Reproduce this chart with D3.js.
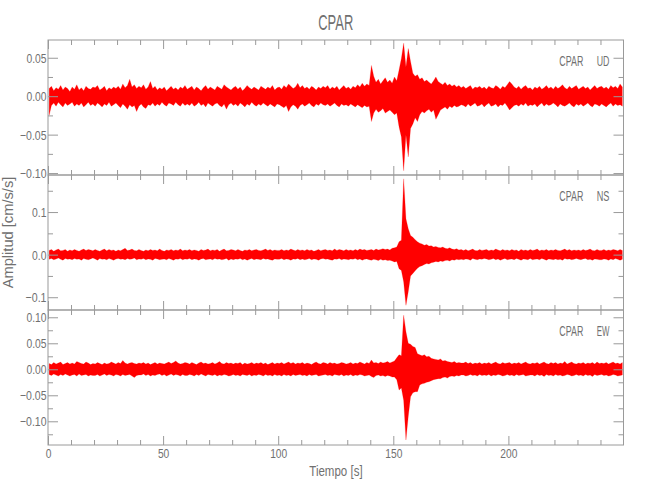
<!DOCTYPE html>
<html><head><meta charset="utf-8">
<script src="https://cdn.jsdelivr.net/npm/d3@7"></script>
<style>body{margin:0;background:#fff}</style></head>
<body><svg id="c" width="650" height="500"></svg>
<script>
// ---- data ----
const station = "CPAR";
const components = ["UD", "NS", "EW"];
const binWidth = 1;           // seconds per envelope bin (bins start at 0 s)
const xMax = 250;
const xMajorTicks = [0, 50, 100, 150, 200];
const xMinorTicks = [10,20,30,40,60,70,80,90,110,120,130,140,160,170,180,190,210,220,230,240];

// UD component: positive / negative peak in each 1 s bin (cm/s/s)
const udMax = [
 .010,.013,.007,.011,.009,.014,.008,.012,.010,.006,
 .012,.009,.015,.008,.011,.007,.013,.010,.009,.012,
 .011,.014,.008,.010,.013,.007,.011,.009,.012,.010,
 .013,.009,.016,.011,.014,.022,.012,.015,.010,.013,
 .011,.015,.009,.012,.019,.010,.013,.008,.011,.009,
 .012,.007,.010,.013,.009,.011,.008,.012,.010,.014,
 .009,.011,.013,.008,.012,.010,.007,.011,.014,.009,
 .012,.010,.008,.013,.011,.009,.015,.012,.010,.008,
 .011,.013,.009,.012,.007,.010,.014,.011,.009,.012,
 .010,.008,.013,.011,.009,.012,.010,.014,.008,.011,
 .012,.009,.014,.011,.016,.013,.010,.012,.017,.011,
 .014,.010,.012,.009,.013,.011,.008,.012,.010,.013,
 .011,.014,.009,.012,.010,.013,.008,.011,.014,.010,
 .012,.009,.013,.011,.015,.012,.017,.013,.016,.014,
 .040,.026,.018,.022,.016,.020,.024,.018,.021,.017,
 .025,.020,.034,.049,.069,.038,.062,.045,.030,.026,
 .028,.022,.024,.019,.021,.018,.016,.020,.025,.019,
 .017,.015,.018,.014,.016,.013,.015,.012,.014,.011,
 .013,.010,.012,.014,.009,.012,.011,.013,.010,.012,
 .009,.013,.011,.010,.014,.012,.009,.013,.011,.015,
 .019,.016,.012,.010,.013,.009,.012,.014,.010,.011,
 .008,.012,.010,.013,.009,.011,.014,.010,.012,.009,
 .013,.010,.012,.015,.011,.009,.013,.010,.012,.014,
 .009,.011,.013,.010,.012,.008,.011,.014,.010,.012,
 .013,.010,.012,.009,.014,.011,.013,.010,.016,.012];
const udMin = [
 -.025,-.012,-.009,-.013,-.008,-.011,-.014,-.009,-.012,-.010,
 -.008,-.013,-.010,-.012,-.009,-.014,-.011,-.008,-.012,-.010,
 -.013,-.009,-.011,-.014,-.010,-.012,-.008,-.013,-.011,-.009,
 -.012,-.015,-.010,-.013,-.017,-.011,-.014,-.012,-.020,-.013,
 -.010,-.014,-.016,-.011,-.012,-.009,-.013,-.010,-.012,-.008,
 -.011,-.013,-.009,-.010,-.012,-.008,-.011,-.013,-.009,-.012,
 -.010,-.012,-.009,-.013,-.011,-.008,-.012,-.010,-.014,-.009,
 -.011,-.013,-.010,-.009,-.012,-.014,-.010,-.017,-.011,-.009,
 -.012,-.010,-.013,-.009,-.011,-.014,-.010,-.012,-.008,-.011,
 -.013,-.010,-.012,-.009,-.011,-.013,-.010,-.012,-.014,-.010,
 -.011,-.013,-.015,-.012,-.020,-.014,-.011,-.013,-.017,-.012,
 -.010,-.013,-.011,-.009,-.012,-.014,-.010,-.012,-.009,-.011,
 -.012,-.010,-.013,-.011,-.009,-.012,-.014,-.010,-.012,-.011,
 -.013,-.010,-.012,-.014,-.011,-.013,-.015,-.012,-.014,-.013,
 -.033,-.022,-.017,-.021,-.019,-.016,-.022,-.020,-.018,-.021,
 -.024,-.022,-.040,-.053,-.097,-.050,-.079,-.042,-.036,-.028,
 -.033,-.024,-.020,-.022,-.019,-.017,-.021,-.018,-.030,-.024,
 -.018,-.016,-.014,-.017,-.013,-.015,-.012,-.014,-.013,-.011,
 -.012,-.014,-.010,-.013,-.011,-.009,-.013,-.012,-.010,-.014,
 -.011,-.009,-.013,-.012,-.010,-.014,-.011,-.012,-.009,-.013,
 -.018,-.015,-.012,-.011,-.013,-.010,-.012,-.009,-.013,-.011,
 -.012,-.010,-.014,-.011,-.009,-.013,-.010,-.012,-.011,-.009,
 -.011,-.014,-.010,-.012,-.013,-.011,-.009,-.012,-.014,-.010,
 -.012,-.010,-.013,-.011,-.009,-.012,-.014,-.010,-.011,-.013,
 -.010,-.012,-.014,-.011,-.009,-.013,-.010,-.012,-.011,-.013];

// NS component
const nsMax = [
 .010,.012,.008,.011,.013,.009,.010,.012,.008,.011,
 .009,.012,.010,.008,.011,.013,.010,.012,.011,.009,
 .012,.010,.008,.011,.013,.009,.012,.010,.011,.008,
 .011,.009,.012,.015,.010,.011,.013,.010,.009,.012,
 .010,.008,.011,.009,.012,.010,.011,.009,.013,.010,
 .008,.011,.010,.012,.009,.011,.010,.013,.009,.011,
 .010,.012,.009,.011,.010,.008,.012,.010,.011,.013,
 .009,.011,.010,.012,.008,.011,.013,.009,.010,.012,
 .011,.009,.012,.010,.008,.011,.010,.012,.009,.011,
 .012,.010,.009,.011,.013,.010,.012,.009,.011,.010,
 .010,.012,.009,.011,.010,.013,.011,.009,.012,.010,
 .011,.009,.012,.010,.011,.008,.010,.012,.009,.011,
 .012,.010,.011,.009,.013,.010,.012,.011,.009,.012,
 .010,.011,.009,.012,.010,.013,.011,.012,.010,.011,
 .012,.010,.013,.011,.012,.014,.012,.013,.011,.015,
 .016,.018,.030,.034,.178,.084,.061,.045,.041,.035,
 .030,.027,.025,.022,.024,.020,.021,.018,.019,.017,
 .016,.018,.015,.014,.016,.013,.012,.014,.011,.012,
 .010,.012,.009,.011,.013,.010,.009,.012,.010,.011,
 .012,.009,.011,.010,.013,.011,.009,.012,.010,.011,
 .009,.012,.010,.011,.008,.012,.010,.011,.009,.012,
 .010,.011,.013,.009,.011,.010,.012,.009,.011,.010,
 .012,.010,.009,.011,.013,.010,.012,.009,.011,.010,
 .011,.009,.012,.010,.011,.013,.010,.009,.012,.010,
 .010,.012,.009,.011,.010,.012,.011,.009,.012,.010];
const nsMin = [
 -.011,-.009,-.012,-.010,-.008,-.011,-.013,-.009,-.011,-.010,
 -.012,-.009,-.011,-.010,-.013,-.009,-.011,-.012,-.010,-.008,
 -.010,-.013,-.009,-.011,-.010,-.012,-.009,-.011,-.013,-.010,
 -.009,-.011,-.010,-.012,-.009,-.011,-.010,-.008,-.012,-.010,
 -.011,-.009,-.012,-.010,-.011,-.013,-.009,-.010,-.012,-.011,
 -.010,-.012,-.009,-.011,-.013,-.010,-.011,-.009,-.012,-.010,
 -.011,-.009,-.012,-.010,-.011,-.013,-.010,-.009,-.012,-.011,
 -.010,-.012,-.009,-.011,-.010,-.012,-.011,-.009,-.013,-.010,
 -.012,-.010,-.011,-.009,-.012,-.010,-.013,-.011,-.009,-.012,
 -.010,-.011,-.012,-.009,-.011,-.010,-.012,-.013,-.010,-.011,
 -.011,-.009,-.012,-.010,-.011,-.013,-.010,-.011,-.009,-.012,
 -.010,-.012,-.011,-.009,-.012,-.010,-.011,-.013,-.010,-.009,
 -.011,-.010,-.012,-.013,-.010,-.011,-.009,-.012,-.010,-.011,
 -.012,-.010,-.011,-.009,-.012,-.010,-.013,-.011,-.010,-.012,
 -.013,-.011,-.012,-.014,-.011,-.013,-.012,-.014,-.013,-.015,
 -.017,-.016,-.033,-.037,-.064,-.119,-.087,-.050,-.044,-.038,
 -.032,-.028,-.026,-.023,-.021,-.022,-.019,-.018,-.016,-.017,
 -.015,-.016,-.014,-.013,-.015,-.012,-.013,-.011,-.012,-.011,
 -.012,-.010,-.011,-.013,-.009,-.011,-.012,-.010,-.011,-.009,
 -.010,-.012,-.011,-.009,-.012,-.010,-.013,-.011,-.009,-.012,
 -.011,-.010,-.012,-.009,-.011,-.013,-.010,-.011,-.012,-.009,
 -.012,-.011,-.010,-.012,-.009,-.011,-.013,-.010,-.011,-.012,
 -.010,-.012,-.011,-.013,-.009,-.011,-.010,-.012,-.011,-.009,
 -.011,-.012,-.010,-.009,-.012,-.011,-.013,-.010,-.011,-.012,
 -.012,-.010,-.011,-.013,-.010,-.012,-.009,-.011,-.013,-.011];

// EW component
const ewMax = [
 .011,.009,.013,.010,.012,.014,.009,.011,.013,.010,
 .012,.010,.015,.013,.011,.010,.014,.012,.009,.011,
 .010,.013,.011,.009,.012,.010,.011,.014,.012,.010,
 .013,.011,.017,.012,.010,.012,.013,.011,.010,.012,
 .011,.013,.010,.012,.009,.011,.013,.010,.012,.011,
 .010,.012,.014,.011,.013,.016,.012,.010,.011,.013,
 .012,.010,.013,.011,.009,.012,.014,.011,.012,.010,
 .011,.013,.010,.012,.015,.011,.010,.013,.011,.012,
 .010,.012,.011,.013,.009,.012,.010,.011,.013,.010,
 .012,.011,.013,.010,.012,.009,.011,.013,.010,.012,
 .011,.013,.010,.012,.014,.011,.013,.010,.012,.011,
 .013,.010,.012,.011,.009,.012,.014,.011,.010,.013,
 .012,.010,.013,.011,.012,.010,.011,.013,.012,.010,
 .011,.013,.010,.012,.011,.014,.012,.010,.013,.011,
 .018,.012,.013,.011,.014,.012,.013,.015,.012,.014,
 .016,.022,.028,.026,.104,.072,.050,.048,.044,.042,
 .030,.028,.026,.028,.024,.025,.021,.020,.019,.018,
 .020,.016,.017,.015,.014,.013,.015,.012,.013,.012,
 .012,.014,.011,.013,.010,.012,.011,.013,.010,.012,
 .011,.013,.010,.012,.014,.011,.010,.013,.011,.012,
 .013,.010,.012,.011,.013,.010,.012,.014,.011,.010,
 .012,.011,.013,.010,.012,.014,.011,.010,.013,.011,
 .013,.010,.012,.011,.015,.010,.012,.014,.011,.010,
 .012,.011,.013,.010,.012,.011,.013,.010,.014,.011,
 .012,.011,.013,.010,.012,.014,.011,.012,.010,.013];
const ewMin = [
 -.010,-.012,-.009,-.011,-.013,-.010,-.012,-.009,-.011,-.013,
 -.011,-.010,-.013,-.009,-.012,-.011,-.010,-.013,-.011,-.012,
 -.012,-.010,-.013,-.011,-.009,-.012,-.010,-.011,-.013,-.010,
 -.011,-.013,-.010,-.012,-.011,-.010,-.013,-.016,-.012,-.011,
 -.011,-.009,-.012,-.010,-.013,-.011,-.012,-.010,-.009,-.012,
 -.010,-.013,-.011,-.009,-.012,-.010,-.011,-.013,-.010,-.012,
 -.012,-.010,-.011,-.013,-.010,-.012,-.009,-.011,-.013,-.010,
 -.011,-.012,-.010,-.013,-.011,-.012,-.010,-.011,-.013,-.012,
 -.010,-.012,-.011,-.013,-.010,-.011,-.012,-.010,-.013,-.011,
 -.012,-.010,-.011,-.013,-.010,-.012,-.011,-.013,-.010,-.012,
 -.011,-.013,-.010,-.012,-.011,-.013,-.010,-.012,-.011,-.010,
 -.012,-.011,-.013,-.010,-.012,-.011,-.010,-.013,-.012,-.011,
 -.010,-.012,-.011,-.013,-.010,-.011,-.012,-.010,-.013,-.011,
 -.012,-.010,-.013,-.011,-.012,-.010,-.011,-.013,-.012,-.011,
 -.014,-.016,-.012,-.011,-.013,-.012,-.014,-.012,-.013,-.015,
 -.015,-.020,-.040,-.036,-.060,-.136,-.091,-.053,-.045,-.043,
 -.043,-.030,-.028,-.027,-.025,-.024,-.022,-.020,-.019,-.018,
 -.018,-.016,-.015,-.017,-.014,-.013,-.014,-.012,-.013,-.011,
 -.011,-.013,-.012,-.010,-.012,-.011,-.013,-.010,-.012,-.011,
 -.012,-.010,-.013,-.011,-.012,-.010,-.011,-.013,-.012,-.010,
 -.012,-.011,-.013,-.010,-.012,-.011,-.010,-.013,-.012,-.011,
 -.011,-.013,-.010,-.012,-.011,-.014,-.010,-.012,-.011,-.013,
 -.010,-.012,-.011,-.013,-.012,-.010,-.011,-.013,-.012,-.010,
 -.012,-.011,-.013,-.010,-.012,-.011,-.014,-.010,-.012,-.011,
 -.010,-.012,-.011,-.013,-.012,-.010,-.011,-.013,-.012,-.011];

// y-axis ranges and ticks per panel
const yDomains = [[-0.1025, 0.0731], [-0.130, 0.187], [-0.1456, 0.114]];
const yMajorTicks = [[-0.10, -0.05, 0.00, 0.05], [-0.1, 0.0, 0.1], [-0.10, -0.05, 0.00, 0.05, 0.10]];
const yMinorTicks = [[-0.075, -0.025, 0.025], [-0.05, 0.05, 0.15], [-0.125, -0.075, -0.025, 0.025, 0.075]];
const yFormats = [".2f", ".1f", ".2f"];
const seriesMax = [udMax, nsMax, ewMax];
const seriesMin = [udMin, nsMin, ewMin];

// ---- layout ----
const W = 650, H = 500;
const pL = 48, pR = 623.5, pT = 40, pB = 445;
const panelH = (pB - pT) / 3;
const axisColor = "#9a9a9a", textColor = "#707070";
const FONT = "'Liberation Sans', Arial, sans-serif";

const svg = d3.select("#c");
svg.append("rect").attr("width", W).attr("height", H).attr("fill", "#fff");

const x = d3.scaleLinear().domain([0, xMax]).range([pL, pR]);

function labelWidth(s) {
  let w = 0;
  for (const ch of s) {
    if (ch >= "0" && ch <= "9") w += 5.7;
    else if (ch === ".") w += 3;
    else if (ch === "\u2212" || ch === "-") w += 6.5;
    else w += 5.7;
  }
  return w;
}
function fitText(sel) {
  sel.each(function () {
    const t = d3.select(this);
    t.attr("textLength", labelWidth(t.text())).attr("lengthAdjust", "spacingAndGlyphs");
  });
}

const defs = svg.append("defs");

components.forEach((comp, i) => {
  const y0 = pT + i * panelH, y1 = y0 + panelH;
  const y = d3.scaleLinear().domain(yDomains[i]).range([y1, y0]);
  const g = svg.append("g");

  defs.append("clipPath").attr("id", "clip" + i)
    .append("rect").attr("x", pL).attr("y", y0).attr("width", pR - pL).attr("height", panelH);

  // trace envelope: upper edge through positive peaks, lower edge through negative peaks
  const bins = seriesMax[i].map((v, k) => ({ t: k * binWidth + binWidth / 2, hi: v, lo: seriesMin[i][k] }));
  const area = d3.area().x(d => x(d.t)).y0(d => y(d.lo)).y1(d => y(d.hi));
  g.append("path")
    .attr("clip-path", `url(#clip${i})`)
    .attr("d", area(bins))
    .attr("fill", "#ff0000").attr("stroke", "#ff0000").attr("stroke-width", 0.4)
    .attr("stroke-opacity", 0.5).attr("stroke-linejoin", "miter");

  // frame
  g.append("rect").attr("x", pL).attr("y", y0).attr("width", pR - pL).attr("height", panelH)
    .attr("fill", "none").attr("stroke", axisColor).attr("stroke-width", 1);

  const styleAxis = a => { a.select(".domain").remove(); a.selectAll("line").attr("stroke", axisColor); };

  // x ticks bottom & top (inward)
  const xb = g.append("g").attr("transform", `translate(0,${y1})`)
    .call(d3.axisBottom(x).tickValues(xMajorTicks).tickSize(-9).tickSizeOuter(0).tickPadding(4)
      .tickFormat(i === 2 ? d3.format("d") : () => ""));
  styleAxis(xb);
  xb.selectAll("text").attr("font-family", FONT).attr("font-size", 13).attr("fill", textColor)
    .attr("dy", null).attr("y", 13.3).call(fitText);
  const xbm = g.append("g").attr("transform", `translate(0,${y1})`)
    .call(d3.axisBottom(x).tickValues(xMinorTicks).tickSize(-5).tickSizeOuter(0).tickFormat(() => ""));
  styleAxis(xbm);
  const xt = g.append("g").attr("transform", `translate(0,${y0})`)
    .call(d3.axisTop(x).tickValues(xMajorTicks).tickSize(-9).tickSizeOuter(0).tickFormat(() => ""));
  styleAxis(xt);
  const xtm = g.append("g").attr("transform", `translate(0,${y0})`)
    .call(d3.axisTop(x).tickValues(xMinorTicks).tickSize(-5).tickSizeOuter(0).tickFormat(() => ""));
  styleAxis(xtm);

  // y ticks left & right (inward)
  const fmt = d3.format(yFormats[i]);
  const yl = g.append("g").attr("transform", `translate(${pL},0)`)
    .call(d3.axisLeft(y).tickValues(yMajorTicks[i]).tickSize(-10).tickSizeOuter(0).tickPadding(1.5)
      .tickFormat(d => fmt(d)));
  styleAxis(yl);
  yl.selectAll("text").attr("font-family", FONT).attr("font-size", 13).attr("fill", textColor)
    .attr("dy", "0.36em").call(fitText);
  const ylm = g.append("g").attr("transform", `translate(${pL},0)`)
    .call(d3.axisLeft(y).tickValues(yMinorTicks[i]).tickSize(-5).tickSizeOuter(0).tickFormat(() => ""));
  styleAxis(ylm);
  const yr = g.append("g").attr("transform", `translate(${pR},0)`)
    .call(d3.axisRight(y).tickValues(yMajorTicks[i]).tickSize(-10).tickSizeOuter(0).tickFormat(() => ""));
  styleAxis(yr);
  const yrm = g.append("g").attr("transform", `translate(${pR},0)`)
    .call(d3.axisRight(y).tickValues(yMinorTicks[i]).tickSize(-5).tickSizeOuter(0).tickFormat(() => ""));
  styleAxis(yrm);

  // station / component label
  g.append("text").attr("x", 559.3).attr("y", y0 + 26).text(station)
    .attr("font-family", FONT).attr("font-size", 14).attr("fill", textColor)
    .attr("textLength", 24).attr("lengthAdjust", "spacingAndGlyphs");
  g.append("text").attr("x", 596.7).attr("y", y0 + 26).text(comp)
    .attr("font-family", FONT).attr("font-size", 14).attr("fill", textColor)
    .attr("textLength", 12.7).attr("lengthAdjust", "spacingAndGlyphs");
});

// title
svg.append("text").attr("x", (pL + pR) / 2 - 17.5).attr("y", 30).text(station)
  .attr("font-family", FONT).attr("font-size", 22).attr("fill", textColor)
  .attr("textLength", 35).attr("lengthAdjust", "spacingAndGlyphs");

// x label
svg.append("text").attr("x", 309.3).attr("y", 476).text("Tiempo [s]")
  .attr("font-family", FONT).attr("font-size", 14).attr("fill", textColor)
  .attr("textLength", 53.3).attr("lengthAdjust", "spacingAndGlyphs");

// y label
svg.append("text").attr("transform", "translate(12.5,288.3) rotate(-90)").text("Amplitud [cm/s/s]")
  .attr("font-family", FONT).attr("font-size", 14).attr("fill", textColor)
  .attr("textLength", 111.6).attr("lengthAdjust", "spacingAndGlyphs");
</script>
</body></html>
